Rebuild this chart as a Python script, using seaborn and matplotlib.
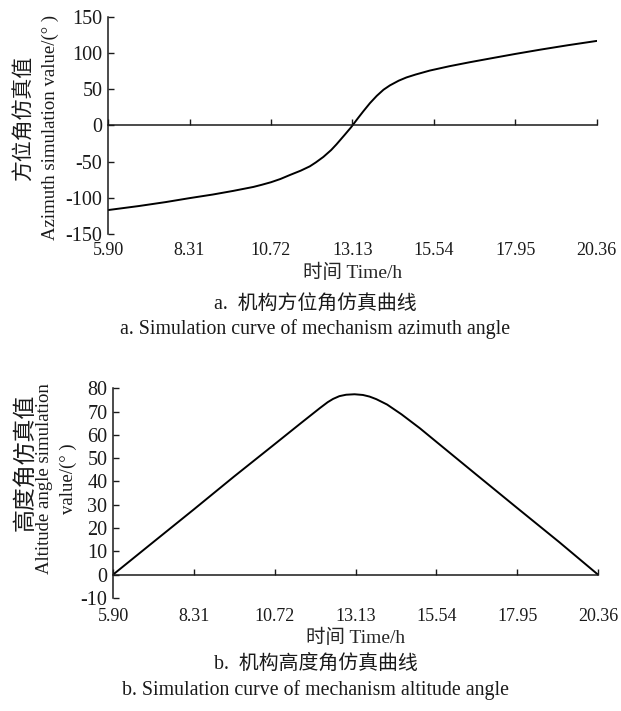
import matplotlib
matplotlib.use("Agg")
import matplotlib.pyplot as plt
import seaborn as sns

# azimuth curve
az_time = [5.90, 6.8, 7.6, 8.31, 9.0, 9.6, 10.2, 10.45, 10.72, 11.0, 11.28, 11.6, 11.87,
           12.05, 12.27, 12.5, 12.66, 12.9, 13.09, 13.13, 13.3, 13.45, 13.65, 13.85,
           14.05, 14.24, 14.5, 14.73, 15.0, 15.42, 16.0, 16.6, 17.3, 17.95, 18.7, 19.5,
           20.36]
az_value = [-117, -111.5, -106, -100.5, -95.5, -90.5, -85, -82, -78.5, -74, -68.5, -62.5,
            -56.5, -51, -43.5, -34, -26, -13, -2.5, 0, 10.5, 19.5, 31, 41,
            49.5, 55.5, 62, 66.5, 70.5, 76, 82, 87.5, 93.5, 99, 105, 111,
            117]

# altitude curve
alt_time = [5.90, 7.0, 8.31, 9.5, 10.72, 11.5, 12.07, 12.3, 12.46, 12.65, 12.85, 13.1,
            13.35, 13.55, 13.75, 14.07, 14.5, 15.05, 15.54, 16.7, 17.95, 19.2, 20.36]
alt_value = [0, 12.8, 28, 42, 56, 65, 71.5, 74, 75.4, 76.6, 77.2, 77.4,
             77.1, 76.4, 75.3, 73.0, 68.8, 62.8, 57.0, 43.3, 28.6, 14, 0]

x_ticks = [5.90, 8.31, 10.72, 13.13, 15.54, 17.95, 20.36]
x_tick_labels = ["5.90", "8.31", "10.72", "13.13", "15.54", "17.95", "20.36"]
az_ticks = [-150, -100, -50, 0, 50, 100, 150]
alt_ticks = [-10, 0, 10, 20, 30, 40, 50, 60, 70, 80]

sns.set_style("ticks")
plt.rcParams["font.family"] = ["Liberation Serif", "Noto Sans CJK SC", "DejaVu Sans"]
plt.rcParams["axes.unicode_minus"] = False
plt.rcParams["text.color"] = "#1a1a1a"
plt.rcParams["xtick.color"] = "#1a1a1a"
plt.rcParams["ytick.color"] = "#1a1a1a"

fig = plt.figure(figsize=(6.21, 7.11), dpi=100)
ax_a = fig.add_axes([0.174, 0.671, 0.787, 0.305])
ax_b = fig.add_axes([0.182, 0.159, 0.781, 0.295])


def style_axes(ax, yticks, ylim, pad_x):
    """Zero-line x axis with inward ticks; labels sit at the bottom."""
    ax.set_xlim(x_ticks[0], x_ticks[-1])
    ax.set_ylim(*ylim)
    ax.set_yticks(yticks)
    ax.set_xticks(x_ticks)
    for side in ["top", "right"]:
        ax.spines[side].set_visible(False)
    ax.spines["bottom"].set_position(("data", 0))
    for side in ["left", "bottom"]:
        ax.spines[side].set_linewidth(1.1)
        ax.spines[side].set_color("#1a1a1a")
    ax.tick_params(axis="x", direction="in", length=4, width=1, labelbottom=False)
    ax.tick_params(axis="y", direction="in", length=4, width=1, pad=4, labelsize=14.5)
    ax.set_xlabel("")
    ax.set_ylabel("")
    # tick labels along the lower edge of the panel
    sec = ax.secondary_xaxis("bottom")
    sec.set_xticks(x_ticks, x_tick_labels)
    sec.spines["bottom"].set_visible(False)
    sec.tick_params(length=0, pad=pad_x, labelsize=13)
    return sec


# panel a: azimuth
sns.lineplot(x=az_time, y=az_value, ax=ax_a, color="black", linewidth=1.4)
sec_a = style_axes(ax_a, az_ticks, (-150, 150), 6)
sec_a.set_xlabel("时间 Time/h", fontsize=14, labelpad=3)
fig.text(25 / 621, 1 - 118 / 711, "方位角仿真值", rotation=90, ha="center", va="center",
         fontsize=15)
fig.text(50 / 621, 1 - 127 / 711, "Azimuth simulation value/(° )", rotation=90,
         ha="center", va="center", fontsize=13.5)

# panel b: altitude
sns.lineplot(x=alt_time, y=alt_value, ax=ax_b, color="black", linewidth=1.4)
sec_b = style_axes(ax_b, alt_ticks, (-10, 80), 7)
sec_b.set_xlabel("时间 Time/h", fontsize=14, labelpad=3)
fig.text(25 / 621, 1 - 462 / 711, "高度角仿真值", rotation=90, ha="center", va="center",
         fontsize=16.5)
fig.text(45 / 621, 1 - 479 / 711, "Altitude angle simulation", rotation=90,
         ha="center", va="center", fontsize=13.5)
fig.text(68 / 621, 1 - 479 / 711, "value/(° )", rotation=90,
         ha="center", va="center", fontsize=13.5)

# captions under each panel
fig.text(0.508, 1 - 305 / 711, "a.  机构方位角仿真曲线", ha="center", va="center", fontsize=14.3)
fig.text(0.508, 1 - 329 / 711, "a. Simulation curve of mechanism azimuth angle",
         ha="center", va="center", fontsize=14.3)
fig.text(0.508, 1 - 664 / 711, "b.  机构高度角仿真曲线", ha="center", va="center", fontsize=14.3)
fig.text(0.508, 1 - 690 / 711, "b. Simulation curve of mechanism altitude angle",
         ha="center", va="center", fontsize=14.3)

fig.savefig("out.png", dpi=100)
